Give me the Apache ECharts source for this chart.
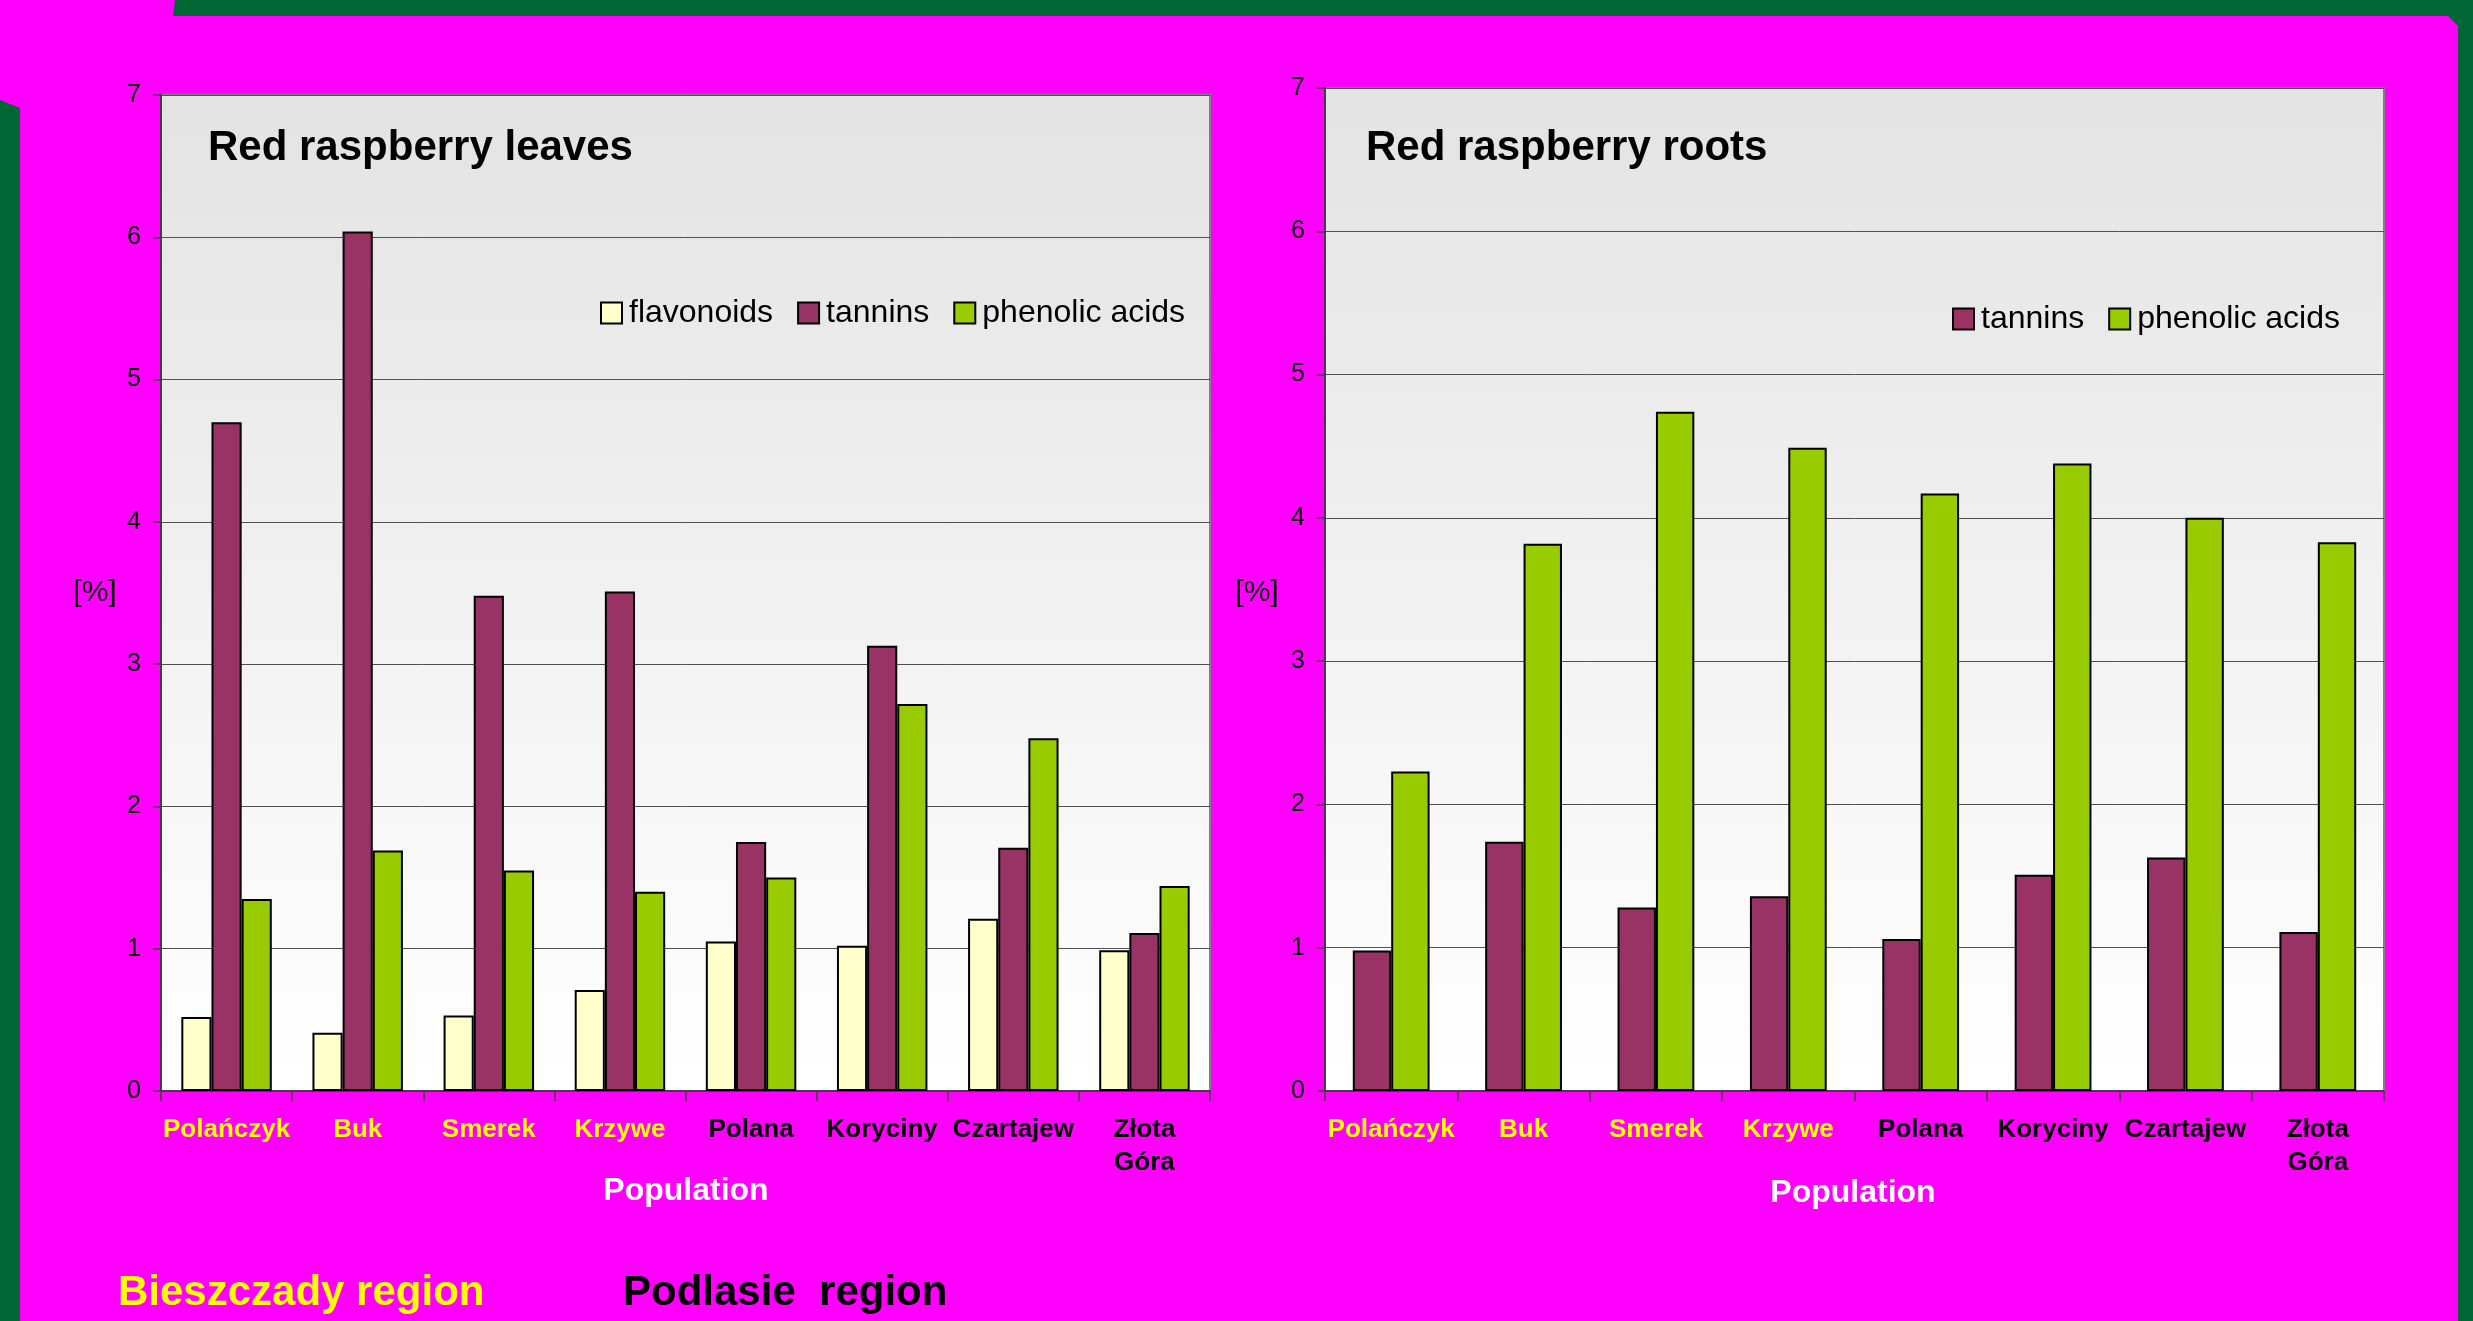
<!DOCTYPE html>
<html>
<head>
<meta charset="utf-8">
<script src="https://cdn.jsdelivr.net/npm/echarts@6.0.0/dist/echarts.min.js"></script>
<style>
  html, body { margin: 0; padding: 0; background: #006633; }
  #chart { width: 2473px; height: 1321px; }
</style>
</head>
<body>
<div id="chart"></div>
<script>
// populations, first four from the Bieszczady region (yellow labels)
const populations = ['Polańczyk', 'Buk', 'Smerek', 'Krzywe', 'Polana', 'Koryciny', 'Czartajew', 'Złota\nGóra'];
const bieszczadyCount = 4;

// leaves [%]
const leavesFlavonoids = [0.52, 0.41, 0.53, 0.71, 1.05, 1.02, 1.21, 0.99];
const leavesTannins = [4.70, 6.04, 3.48, 3.51, 1.75, 3.13, 1.71, 1.11];
const leavesPhenolic = [1.35, 1.69, 1.55, 1.40, 1.50, 2.72, 2.48, 1.44];

// roots [%]
const rootsTannins = [0.98, 1.74, 1.28, 1.36, 1.06, 1.51, 1.63, 1.11];
const rootsPhenolic = [2.23, 3.82, 4.74, 4.49, 4.17, 4.38, 4.00, 3.83];

const FONT = 'Liberation Sans, Arial, Helvetica, sans-serif';
const colors = { flavonoids: '#FFFFCC', tannins: '#993366', phenolic: '#99CC00' };

const categoryData = populations.map((p, i) => ({
    value: p,
    textStyle: { color: i < bieszczadyCount ? '#FFFF00' : '#000000' }
}));

function plotBg() {
    return new echarts.graphic.LinearGradient(0, 0, 0, 1, [
        { offset: 0, color: '#E3E3E3' },
        { offset: 1, color: '#FFFFFF' }
    ]);
}

function xAxis(gridIndex) {
    return {
        type: 'category',
        gridIndex: gridIndex,
        data: categoryData,
        axisLine: { lineStyle: { color: '#404040', width: 2 } },
        axisTick: { show: true, length: 10, lineStyle: { color: '#404040', width: 1.5 } },
        axisLabel: {
            fontFamily: FONT, fontSize: 26, fontWeight: 'bold',
            lineHeight: 33, margin: 22, interval: 0
        }
    };
}

function yAxis(gridIndex) {
    return {
        type: 'value',
        gridIndex: gridIndex,
        min: 0, max: 7, interval: 1,
        axisLine: { show: true, lineStyle: { color: '#404040', width: 2 } },
        axisTick: { show: true, length: 8, lineStyle: { color: '#404040', width: 1.5 } },
        axisLabel: { fontFamily: FONT, fontSize: 25, color: '#000', margin: 20 },
        splitLine: { lineStyle: { color: '#505050', width: 1 } }
    };
}

function bar(name, data, color, idx, catGap) {
    return {
        name: name,
        type: 'bar',
        xAxisIndex: idx,
        yAxisIndex: idx,
        data: data,
        barGap: '0%',
        barCategoryGap: catGap,
        itemStyle: { color: color, borderColor: '#000', borderWidth: 2 },
        emphasis: { disabled: true }
    };
}

function txt(text, x, y, size, color, weight, align) {
    return {
        type: 'text', x: x, y: y, z: 50,
        style: {
            text: text, fill: color, fontFamily: FONT, fontSize: size,
            fontWeight: weight, align: align, verticalAlign: 'middle'
        }
    };
}

const legendBase = {
    orient: 'horizontal',
    itemWidth: 21, itemHeight: 21, itemGap: 24,
    padding: 0,
    icon: 'rect',
    itemStyle: { borderColor: '#000', borderWidth: 2 },
    textStyle: { fontFamily: FONT, fontSize: 32, color: '#000', padding: [0, 0, 0, 2] },
    selectedMode: false
};

const option = {
    backgroundColor: '#006633',
    animation: false,
    title: [
        { text: 'Red raspberry leaves', left: 208, top: 127, padding: 0,
          textStyle: { fontFamily: FONT, fontSize: 42, fontWeight: 'bold', color: '#000' } },
        { text: 'Red raspberry roots', left: 1366, top: 127, padding: 0,
          textStyle: { fontFamily: FONT, fontSize: 42, fontWeight: 'bold', color: '#000' } }
    ],
    legend: [
        Object.assign({}, legendBase, { left: 600, top: 297, data: ['flavonoids', 'tannins', 'phenolic acids'] }),
        Object.assign({}, legendBase, { left: 1952, top: 303, data: ['tannins', 'phenolic acids'] })
    ],
    grid: [
        { left: 161, top: 95, width: 1049, height: 996, show: true,
          backgroundColor: plotBg(), borderColor: '#808080', borderWidth: 2 },
        { left: 1325, top: 88, width: 1059, height: 1003, show: true,
          backgroundColor: plotBg(), borderColor: '#808080', borderWidth: 2 }
    ],
    xAxis: [xAxis(0), xAxis(1)],
    yAxis: [yAxis(0), yAxis(1)],
    series: [
        bar('flavonoids', leavesFlavonoids, colors.flavonoids, 0, '31%'),
        bar('tannins', leavesTannins, colors.tannins, 0, '31%'),
        bar('phenolic acids', leavesPhenolic, colors.phenolic, 0, '31%'),
        bar('tannins', rootsTannins, colors.tannins, 1, '42%'),
        bar('phenolic acids', rootsPhenolic, colors.phenolic, 1, '42%')
    ],
    graphic: [
        {
            type: 'polygon', z: -10, silent: true,
            shape: { points: [[0, 0], [175, 0], [173, 16], [2448, 16], [2458, 26], [2458, 1321], [20, 1321], [20, 108], [0, 100]] },
            style: { fill: '#FF00FF' }
        },
        txt('[%]', 95, 593, 30, '#000', 'normal', 'center'),
        txt('[%]', 1257, 593, 30, '#000', 'normal', 'center'),
        txt('Population', 686, 1191, 32, '#FFFFFF', 'bold', 'center'),
        txt('Population', 1853, 1193, 32, '#FFFFFF', 'bold', 'center'),
        txt('Bieszczady region', 118, 1293, 42, '#FFFF00', 'bold', 'left'),
        txt('Podlasie  region', 623, 1293, 42, '#000000', 'bold', 'left')
    ]
};

const chart = echarts.init(document.getElementById('chart'), null, { renderer: 'canvas' });
chart.setOption(option);
</script>
</body>
</html>
